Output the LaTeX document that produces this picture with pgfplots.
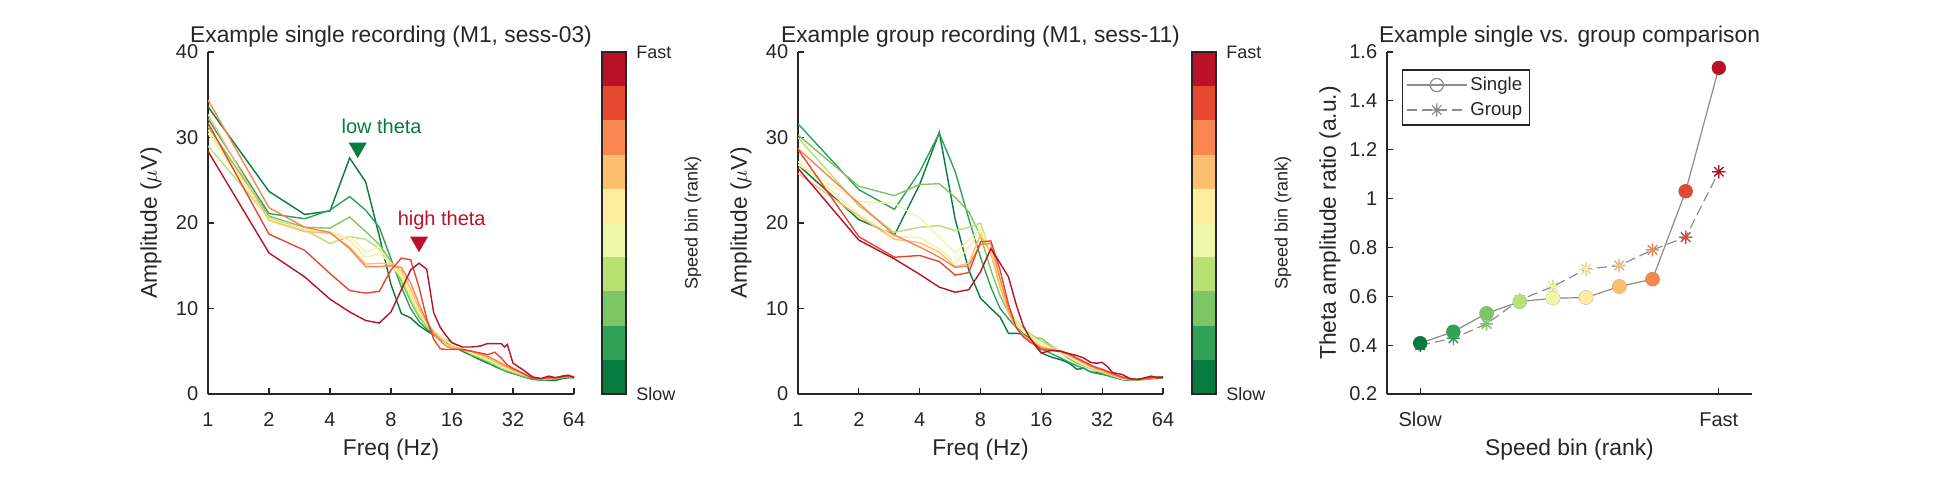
\documentclass[border=0pt]{standalone}
\usepackage{fontspec}
\setmainfont{Liberation Sans}
\usepackage{pgfplots}
\pgfplotsset{compat=1.18}

\definecolor{txt}{HTML}{262626}
\definecolor{lgray}{HTML}{8C8C8C}
\definecolor{c1}{RGB}{7,122,64}
\definecolor{c2}{RGB}{47,162,87}
\definecolor{c3}{RGB}{124,198,99}
\definecolor{c4}{RGB}{185,224,114}
\definecolor{c5}{RGB}{239,247,168}
\definecolor{c6}{RGB}{254,236,159}
\definecolor{c7}{RGB}{253,190,110}
\definecolor{c8}{RGB}{248,134,80}
\definecolor{c9}{RGB}{229,72,47}
\definecolor{c10}{RGB}{186,17,41}

\pgfdeclareplotmark{mast}{%
  \pgfpathmoveto{\pgfqpoint{-\pgfplotmarksize}{0pt}}%
  \pgfpathlineto{\pgfqpoint{\pgfplotmarksize}{0pt}}%
  \pgfpathmoveto{\pgfqpoint{0pt}{-\pgfplotmarksize}}%
  \pgfpathlineto{\pgfqpoint{0pt}{\pgfplotmarksize}}%
  \pgfpathmoveto{\pgfqpoint{-0.707\pgfplotmarksize}{-0.707\pgfplotmarksize}}%
  \pgfpathlineto{\pgfqpoint{0.707\pgfplotmarksize}{0.707\pgfplotmarksize}}%
  \pgfpathmoveto{\pgfqpoint{-0.707\pgfplotmarksize}{0.707\pgfplotmarksize}}%
  \pgfpathlineto{\pgfqpoint{0.707\pgfplotmarksize}{-0.707\pgfplotmarksize}}%
  \pgfusepathqstroke}

\pgfplotsset{
 mat/.style={
   scale only axis,
   anchor=south west,
   axis lines*=left,
   axis line style={txt, line width=0.9pt},
   tick align=inside,
   major tick length=3pt,
   tick style={txt, line width=0.6pt},
   tick label style={font=\fontsize{10}{12}\selectfont, text=txt},
   label style={font=\fontsize{11.4}{13.5}\selectfont, text=txt},
   every axis title shift=0pt,
   title style={font=\fontsize{11.4}{13.5}\selectfont, text=txt, at={(axis description cs:0.5,1.027)}, anchor=base},
   xlabel style={at={(axis description cs:0.5,-0.163)}, anchor=center},
   ylabel style={at={(axis description cs:-0.156,0.5)}, anchor=center},
   xticklabel style={anchor=base, yshift=-16pt},
   yticklabel style={anchor=east, xshift=-1.4pt},
   /pgf/number format/assume math mode=true,
 },
 spec/.style={mat, width=183pt, height=171pt,
   xmin=1, xmax=64, ymin=0, ymax=40,
   xtick={1,2,4,8,16,32,64}, xticklabels={1,2,4,8,16,32,64},
   ytick={0,10,20,30,40}, yticklabels={0,10,20,30,40},
   minor xtick={}, xlabel={Freq (Hz)}, ylabel={Amplitude ($\mu$V)},
   every axis plot/.append style={line width=0.7pt}},
 cbar/.style={scale only axis, anchor=south west, width=12pt, height=171pt,
   xmin=0, xmax=1, ymin=0, ymax=10, xtick=\empty, ytick={0,10},
   yticklabels={Slow,Fast}, yticklabel pos=right, major tick length=0pt,
   axis on top, axis line style={txt, line width=0.6pt},
   tick label style={font=\fontsize{9}{11}\selectfont, text=txt},
   yticklabel style={anchor=west, xshift=1.7pt},
   ylabel={Speed bin (rank)},
   ylabel style={font=\fontsize{9}{11}\selectfont, text=txt, at={(axis description cs:3.79,0.5)}, anchor=center}},
}

\begin{document}
\begin{tikzpicture}
\useasboundingbox (0,0) rectangle (968pt,239pt);

% ---------------- Panel 1 ----------------
\begin{axis}[xmode=log, log basis x=2, spec, at={(104pt,42pt)}, title={Example single recording (M1, sess-03)}]
\addplot[c1] coordinates {(1,33.6)(2,23.7)(3,21.0)(4,21.4)(5,27.6)(6,24.8)(7,18.5)(8,12.8)(9,9.4)(10,8.9)(11,8.0)(12,7.4)(13,6.9)(14,6.4)(15,6.0)(16,5.7)(18,5.0)(20,4.5)(22,4.0)(24,3.6)(26,3.3)(28,2.9)(30,2.6)(32,2.4)(36,2.1)(40,1.8)(44,1.7)(48,1.6)(52,1.6)(56,1.8)(60,1.9)(64,1.9)};
\addplot[c2] coordinates {(1,32.2)(2,21.1)(3,20.5)(4,21.5)(5,23.1)(6,21.5)(7,19.5)(8,15.8)(9,12.5)(10,10.0)(11,8.5)(12,7.6)(13,7.0)(14,6.6)(15,6.3)(16,6.0)(18,5.1)(20,4.6)(22,4.1)(24,3.7)(26,3.2)(28,2.9)(30,2.6)(32,2.4)(36,2.0)(40,1.7)(44,1.6)(48,1.7)(52,1.8)(56,1.9)(60,1.9)(64,2.0)};
\addplot[c3] coordinates {(1,31.3)(2,20.8)(3,19.5)(4,19.4)(5,20.7)(6,19.0)(7,17.5)(8,15.5)(9,13.2)(10,10.8)(11,9.0)(12,7.9)(13,7.2)(14,6.7)(15,6.3)(16,5.9)(18,5.2)(20,4.6)(22,4.2)(24,3.8)(26,3.4)(28,3.0)(30,2.7)(32,2.5)(36,2.1)(40,1.8)(44,1.7)(48,1.7)(52,1.8)(56,1.9)(60,2.0)(64,2.0)};
\addplot[c4] coordinates {(1,29.0)(2,20.6)(3,19.2)(4,17.6)(5,18.4)(6,18.1)(7,17.0)(8,15.2)(9,13.5)(10,11.2)(11,9.3)(12,8.0)(13,7.3)(14,6.7)(15,6.2)(16,5.8)(18,5.2)(20,4.7)(22,4.3)(24,3.9)(26,3.5)(28,3.1)(30,2.8)(32,2.6)(36,2.2)(40,1.9)(44,1.8)(48,1.8)(52,1.9)(56,2.0)(60,2.2)(64,2.1)};
\addplot[c5] coordinates {(1,30.5)(2,20.5)(3,19.0)(4,18.9)(5,18.4)(6,16.6)(7,17.2)(8,15.0)(9,13.8)(10,11.5)(11,9.5)(12,8.2)(13,7.4)(14,6.8)(15,6.2)(16,5.8)(18,5.3)(20,4.8)(22,4.4)(24,4.0)(26,3.6)(28,3.2)(30,2.9)(32,2.7)(36,2.3)(40,1.9)(44,1.8)(48,1.8)(52,1.9)(56,2.0)(60,2.1)(64,2.1)};
\addplot[c6] coordinates {(1,30.9)(2,20.4)(3,19.2)(4,18.9)(5,18.0)(6,16.0)(7,16.4)(8,15.3)(9,14.0)(10,11.8)(11,9.7)(12,8.3)(13,7.4)(14,6.8)(15,6.2)(16,5.7)(18,5.3)(20,4.9)(22,4.5)(24,4.1)(26,3.7)(28,3.3)(30,3.0)(32,2.7)(36,2.3)(40,1.9)(44,1.8)(48,1.8)(52,1.9)(56,2.0)(60,2.1)(64,2.0)};
\addplot[c7] coordinates {(1,32.7)(2,20.3)(3,19.0)(4,18.8)(5,17.2)(6,15.2)(7,15.3)(8,15.2)(9,14.4)(10,12.3)(11,10.0)(12,8.4)(13,7.3)(14,6.5)(15,5.9)(16,5.5)(18,5.3)(20,5.0)(22,4.6)(24,4.2)(26,3.8)(28,3.4)(30,3.1)(32,2.8)(36,2.3)(40,1.9)(44,1.8)(48,1.8)(52,1.9)(56,2.0)(60,2.1)(64,2.0)};
\addplot[c8] coordinates {(1,34.4)(2,21.8)(3,19.5)(4,18.9)(5,17.0)(6,14.9)(7,14.9)(8,15.0)(9,14.8)(10,13.0)(11,10.5)(12,8.5)(13,7.0)(14,6.2)(15,5.6)(16,5.3)(18,5.2)(20,5.0)(22,4.7)(24,4.4)(26,4.0)(28,3.6)(30,3.2)(32,2.9)(36,2.4)(40,1.9)(44,1.8)(48,1.8)(52,1.9)(56,2.0)(60,2.0)(64,2.0)};
\addplot[c9] coordinates {(1,31.7)(2,18.7)(3,16.8)(4,14.1)(5,12.1)(6,11.8)(7,12.0)(8,14.5)(9,15.9)(10,15.7)(11,12.5)(12,8.8)(13,6.4)(14,5.3)(15,5.2)(16,5.2)(18,5.2)(20,5.0)(22,4.8)(24,4.6)(26,4.9)(28,4.2)(30,3.4)(32,3.0)(36,2.4)(40,1.8)(44,1.8)(48,1.9)(52,1.9)(56,2.0)(60,2.1)(64,2.0)};
\addplot[c10] coordinates {(1,28.4)(2,16.5)(3,13.7)(4,11.1)(5,9.6)(6,8.6)(7,8.3)(8,9.6)(9,12.2)(10,14.5)(11,15.3)(12,14.6)(13,9.5)(14,7.8)(15,6.8)(16,6.0)(18,5.5)(20,5.5)(22,5.6)(24,5.9)(26,5.9)(28,5.9)(29,5.5)(30,5.8)(32,3.6)(36,2.8)(40,2.0)(44,1.8)(48,2.1)(52,1.9)(56,2.1)(60,2.2)(64,1.9)};
\addplot[only marks, mark=triangle*, mark size=4.5pt, mark options={rotate=180, fill=c1, draw=c1}] coordinates {(5.48,28.8)};
\addplot[only marks, mark=triangle*, mark size=4.5pt, mark options={rotate=180, fill=c10, draw=c10}] coordinates {(11.0,17.8)};
\node[text=c1, font=\fontsize{10}{12}\selectfont] at (axis cs:7.19,31.3) {low theta};
\node[text=c10, font=\fontsize{10}{12}\selectfont] at (axis cs:14.23,20.35) {high theta};
\end{axis}

\begin{axis}[cbar, at={(301pt,42pt)}]
\addplot[fill=c1, draw=none] coordinates {(0,0)(1,0)(1,1)(0,1)};
\addplot[fill=c2, draw=none] coordinates {(0,1)(1,1)(1,2)(0,2)};
\addplot[fill=c3, draw=none] coordinates {(0,2)(1,2)(1,3)(0,3)};
\addplot[fill=c4, draw=none] coordinates {(0,3)(1,3)(1,4)(0,4)};
\addplot[fill=c5, draw=none] coordinates {(0,4)(1,4)(1,5)(0,5)};
\addplot[fill=c6, draw=none] coordinates {(0,5)(1,5)(1,6)(0,6)};
\addplot[fill=c7, draw=none] coordinates {(0,6)(1,6)(1,7)(0,7)};
\addplot[fill=c8, draw=none] coordinates {(0,7)(1,7)(1,8)(0,8)};
\addplot[fill=c9, draw=none] coordinates {(0,8)(1,8)(1,9)(0,9)};
\addplot[fill=c10, draw=none] coordinates {(0,9)(1,9)(1,10)(0,10)};
\end{axis}

% ---------------- Panel 2 ----------------
\begin{axis}[xmode=log, log basis x=2, spec, at={(399pt,42pt)}, width=182.5pt, title={Example group recording (M1, sess-11)}]
\addplot[c1] coordinates {(1,26.8)(2,20.4)(3,18.6)(4,24.5)(5,30.6)(6,20.4)(7,14.5)(8,11.2)(9,10.0)(10,9.0)(11,7.1)(12,7.1)(13,7.0)(14,6.6)(15,5.6)(16,4.8)(18,4.3)(20,4.0)(22,3.6)(24,2.9)(26,3.0)(28,2.6)(30,2.5)(32,2.4)(36,2.0)(40,1.7)(44,1.6)(48,1.7)(52,1.8)(56,1.8)(60,1.9)(64,1.9)};
\addplot[c2] coordinates {(1,31.6)(2,23.9)(3,21.6)(4,26.0)(5,30.5)(6,26.0)(7,20.5)(8,16.0)(9,12.5)(10,10.0)(11,8.8)(12,7.8)(13,7.2)(14,6.8)(15,6.2)(16,5.3)(18,4.7)(20,4.2)(22,3.7)(24,3.3)(26,3.0)(28,2.6)(30,2.4)(32,2.3)(36,2.0)(40,1.7)(44,1.6)(48,1.7)(52,1.7)(56,1.8)(60,1.8)(64,1.9)};
\addplot[c3] coordinates {(1,30.3)(2,24.3)(3,23.2)(4,24.5)(5,24.6)(6,23.0)(7,21.3)(8,18.5)(9,14.5)(10,11.5)(11,9.5)(12,8.3)(13,7.5)(14,7.0)(15,6.6)(16,6.5)(18,5.6)(20,4.8)(22,4.1)(24,3.6)(26,3.3)(28,3.0)(30,2.7)(32,2.5)(36,2.1)(40,1.8)(44,1.7)(48,1.6)(52,1.7)(56,1.8)(60,1.9)(64,2.0)};
\addplot[c4] coordinates {(1,30.0)(2,22.0)(3,18.9)(4,19.5)(5,19.7)(6,19.1)(7,19.5)(8,20.0)(9,16.5)(10,12.5)(11,10.0)(12,8.6)(13,7.7)(14,7.1)(15,6.6)(16,6.2)(18,5.5)(20,4.9)(22,4.3)(24,3.8)(26,3.4)(28,3.1)(30,2.8)(32,2.6)(36,2.2)(40,1.8)(44,1.7)(48,1.7)(52,1.8)(56,1.9)(60,2.0)(64,2.0)};
\addplot[c5] coordinates {(1,26.8)(2,22.5)(3,22.3)(4,20.6)(5,18.4)(6,16.5)(7,18.0)(8,19.3)(9,17.0)(10,13.0)(11,10.2)(12,8.5)(13,7.5)(14,6.9)(15,6.3)(16,5.9)(18,5.3)(20,4.8)(22,4.3)(24,3.8)(26,3.4)(28,3.1)(30,2.8)(32,2.6)(36,2.2)(40,1.8)(44,1.7)(48,1.7)(52,1.8)(56,1.9)(60,2.0)(64,2.0)};
\addplot[c6] coordinates {(1,27.2)(2,21.0)(3,18.4)(4,18.3)(5,17.0)(6,15.3)(7,17.2)(8,19.0)(9,16.8)(10,12.8)(11,9.8)(12,8.2)(13,7.3)(14,6.7)(15,6.1)(16,5.7)(18,5.3)(20,4.9)(22,4.4)(24,3.9)(26,3.5)(28,3.1)(30,2.8)(32,2.6)(36,2.2)(40,1.8)(44,1.7)(48,1.7)(52,1.8)(56,1.9)(60,2.0)(64,2.0)};
\addplot[c7] coordinates {(1,25.8)(2,20.8)(3,18.1)(4,17.7)(5,16.6)(6,14.9)(7,15.3)(8,18.6)(9,16.5)(10,12.5)(11,9.5)(12,7.8)(13,6.9)(14,6.3)(15,5.9)(16,5.5)(18,5.2)(20,4.9)(22,4.5)(24,4.0)(26,3.6)(28,3.2)(30,2.9)(32,2.7)(36,2.2)(40,1.8)(44,1.7)(48,1.7)(52,1.8)(56,1.9)(60,2.0)(64,2.0)};
\addplot[c8] coordinates {(1,28.7)(2,22.3)(3,18.6)(4,17.2)(5,16.0)(6,14.8)(7,15.0)(8,17.5)(9,17.6)(10,13.5)(11,10.0)(12,7.8)(13,6.8)(14,6.2)(15,5.8)(16,5.4)(18,5.2)(20,5.0)(22,4.6)(24,4.1)(26,3.7)(28,3.3)(30,3.0)(32,2.8)(36,2.3)(40,1.9)(44,1.7)(48,1.7)(52,1.8)(56,1.9)(60,2.0)(64,2.0)};
\addplot[c9] coordinates {(1,28.6)(2,18.4)(3,16.0)(4,16.2)(5,15.5)(6,13.9)(7,14.2)(8,17.8)(9,17.9)(10,14.5)(11,10.5)(12,7.8)(13,6.7)(14,6.1)(15,5.7)(16,5.2)(18,5.1)(20,5.0)(22,4.7)(24,4.2)(26,3.8)(28,3.4)(30,3.1)(32,2.9)(36,2.4)(40,2.0)(44,1.8)(48,1.7)(52,1.8)(56,1.9)(60,2.0)(64,1.9)};
\addplot[c10] coordinates {(1,26.4)(2,18.0)(3,15.8)(4,14.0)(5,12.5)(6,11.9)(7,12.2)(8,14.3)(9,17.0)(10,15.3)(11,13.7)(12,10.5)(13,8.0)(14,6.6)(15,5.7)(16,4.8)(18,5.1)(20,5.0)(22,4.7)(24,4.5)(26,4.2)(28,3.7)(30,3.6)(32,3.7)(34,3.2)(36,2.5)(40,2.3)(44,1.8)(48,1.7)(52,1.9)(56,2.1)(60,1.9)(64,2.0)};
\end{axis}

\begin{axis}[cbar, at={(596pt,42pt)}]
\addplot[fill=c1, draw=none] coordinates {(0,0)(1,0)(1,1)(0,1)};
\addplot[fill=c2, draw=none] coordinates {(0,1)(1,1)(1,2)(0,2)};
\addplot[fill=c3, draw=none] coordinates {(0,2)(1,2)(1,3)(0,3)};
\addplot[fill=c4, draw=none] coordinates {(0,3)(1,3)(1,4)(0,4)};
\addplot[fill=c5, draw=none] coordinates {(0,4)(1,4)(1,5)(0,5)};
\addplot[fill=c6, draw=none] coordinates {(0,5)(1,5)(1,6)(0,6)};
\addplot[fill=c7, draw=none] coordinates {(0,6)(1,6)(1,7)(0,7)};
\addplot[fill=c8, draw=none] coordinates {(0,7)(1,7)(1,8)(0,8)};
\addplot[fill=c9, draw=none] coordinates {(0,8)(1,8)(1,9)(0,9)};
\addplot[fill=c10, draw=none] coordinates {(0,9)(1,9)(1,10)(0,10)};
\end{axis}

% ---------------- Panel 3 ----------------
\begin{axis}[mat, at={(693.5pt,42pt)}, width=182.5pt, height=171pt,
  xmin=0, xmax=11, ymin=0.2, ymax=1.6,
  xtick={1,10}, xticklabels={Slow,Fast},
  ytick={0.2,0.4,0.6,0.8,1,1.2,1.4,1.6}, yticklabels={0.2,0.4,0.6,0.8,1,1.2,1.4,1.6},
  xlabel={Speed bin (rank)}, ylabel={Theta amplitude ratio (a.u.)},
  title={Example single vs. group comparison},
  legend cell align=left,
  legend image code/.code={\draw[mark repeat=2,mark phase=2,#1] plot coordinates {(0pt,0pt) (15pt,0pt) (30pt,0pt)};},
  legend style={at={(axis description cs:0.04,0.949)}, anchor=north west, draw=txt, line width=0.6pt, fill=white,
    font=\fontsize{9.3}{11}\selectfont, text=txt, inner xsep=2pt, inner ysep=1.25pt, row sep=0pt,
    nodes={inner sep=1.5pt, text height=7.5pt, text depth=2pt}},
]
\addplot[color=lgray, line width=0.6pt, mark=o, mark size=3.3pt, mark options={solid, fill=white}] coordinates {(1,0.408)(2,0.455)(3,0.530)(4,0.578)(5,0.592)(6,0.595)(7,0.640)(8,0.670)(9,1.030)(10,1.535)};
\addlegendentry{Single}
\addplot[color=lgray, line width=0.6pt, dash pattern=on 5pt off 2.5pt, mark=mast, mark size=3.3pt, mark options={solid}] coordinates {(1,0.400)(2,0.428)(3,0.487)(4,0.585)(5,0.640)(6,0.711)(7,0.726)(8,0.790)(9,0.842)(10,1.110)};
\addlegendentry{Group}
\addplot[forget plot, only marks, mark=mast, mark size=3.3pt, line width=0.6pt, color=c1] coordinates {(1,0.400)};
\addplot[forget plot, only marks, mark=mast, mark size=3.3pt, line width=0.6pt, color=c2] coordinates {(2,0.428)};
\addplot[forget plot, only marks, mark=mast, mark size=3.3pt, line width=0.6pt, color=c3] coordinates {(3,0.487)};
\addplot[forget plot, only marks, mark=mast, mark size=3.3pt, line width=0.6pt, color=c4] coordinates {(4,0.585)};
\addplot[forget plot, only marks, mark=mast, mark size=3.3pt, line width=0.6pt, color=c5] coordinates {(5,0.640)};
\addplot[forget plot, only marks, mark=mast, mark size=3.3pt, line width=0.6pt, color=c6] coordinates {(6,0.711)};
\addplot[forget plot, only marks, mark=mast, mark size=3.3pt, line width=0.6pt, color=c7] coordinates {(7,0.726)};
\addplot[forget plot, only marks, mark=mast, mark size=3.3pt, line width=0.6pt, color=c8] coordinates {(8,0.790)};
\addplot[forget plot, only marks, mark=mast, mark size=3.3pt, line width=0.6pt, color=c9] coordinates {(9,0.842)};
\addplot[forget plot, only marks, mark=mast, mark size=3.3pt, line width=0.6pt, color=c10] coordinates {(10,1.110)};
\addplot[forget plot, only marks, mark=*, mark size=3.3pt, color=c1] coordinates {(1,0.408)};
\addplot[forget plot, only marks, mark=*, mark size=3.3pt, color=c2] coordinates {(2,0.455)};
\addplot[forget plot, only marks, mark=*, mark size=3.3pt, color=c3] coordinates {(3,0.530)};
\addplot[forget plot, only marks, mark=*, mark size=3.3pt, color=c4] coordinates {(4,0.578)};
\addplot[forget plot, only marks, mark=*, mark size=3.3pt, color=c5] coordinates {(5,0.592)};
\addplot[forget plot, only marks, mark=*, mark size=3.3pt, color=c6] coordinates {(6,0.595)};
\addplot[forget plot, only marks, mark=*, mark size=3.3pt, color=c7] coordinates {(7,0.640)};
\addplot[forget plot, only marks, mark=*, mark size=3.3pt, color=c8] coordinates {(8,0.670)};
\addplot[forget plot, only marks, mark=*, mark size=3.3pt, color=c9] coordinates {(9,1.030)};
\addplot[forget plot, only marks, mark=*, mark size=3.3pt, color=c10] coordinates {(10,1.535)};
\end{axis}
\end{tikzpicture}
\end{document}
